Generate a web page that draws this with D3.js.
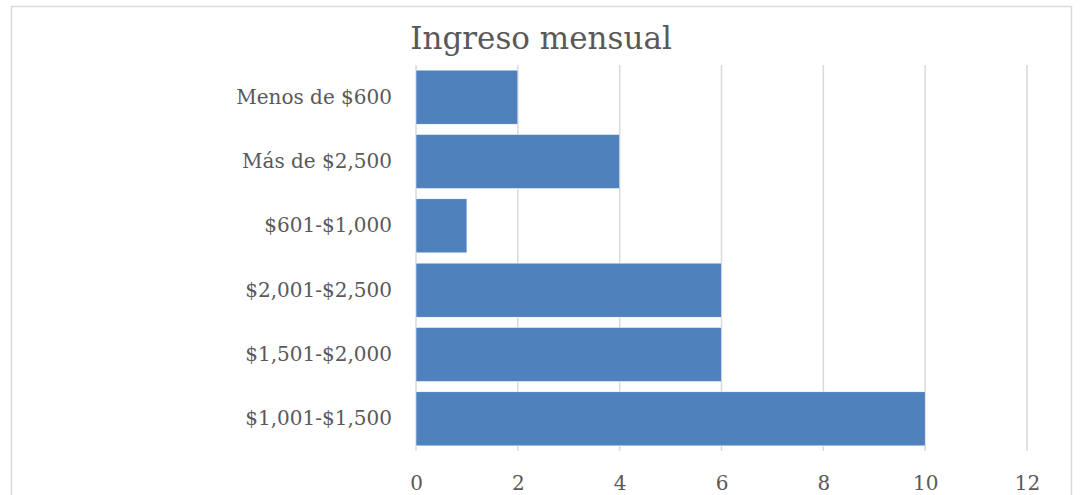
<!DOCTYPE html>
<html>
<head>
<meta charset="utf-8">
<script src="https://cdn.jsdelivr.net/npm/d3@7"></script>
<style>
  body { margin: 0; background: #fff; }
  svg text { font-family: "DejaVu Serif", serif; fill: #595959; }
</style>
</head>
<body>
<div id="chart"></div>
<script>
var width = 1080;
var height = 495;

// data, top to bottom as in the chart
var categories = ["Menos de $600", "Más de $2,500", "$601-$1,000", "$2,001-$2,500", "$1,501-$2,000", "$1,001-$1,500"];
var values = [2, 4, 1, 6, 6, 10];
var xTicks = [0, 2, 4, 6, 8, 10, 12];
var title = "Ingreso mensual";

var margin = {top: 65, right: 53, bottom: 44, left: 416};

var svg = d3.select("#chart")
  .append("svg")
  .attr("width", width)
  .attr("height", height);

// chart border
svg.append("rect")
  .attr("x", 11.5)
  .attr("y", 6.5)
  .attr("width", 1060)
  .attr("height", 500)
  .attr("fill", "none")
  .attr("stroke", "#d9d9d9")
  .attr("stroke-width", 1.5);

var g = svg.append("g")
  .attr("transform", "translate(" + margin.left + "," + margin.top + ")");

var chart_width = width - margin.left - margin.right;
var chart_height = height - margin.top - margin.bottom;

var x_scale = d3.scaleLinear()
  .domain([0, 12])
  .range([0, chart_width]);

var y_scale = d3.scaleBand()
  .domain(categories)
  .range([0, chart_height])
  .paddingInner(0.16)
  .paddingOuter(0.08);

// gridlines
g.selectAll(".grid")
  .data(xTicks)
  .enter()
  .append("line")
  .attr("class", "grid")
  .attr("x1", d => x_scale(d))
  .attr("x2", d => x_scale(d))
  .attr("y1", 0)
  .attr("y2", chart_height)
  .attr("stroke", "#d9d9d9")
  .attr("stroke-width", 1.5);

// bars
g.selectAll(".bar")
  .data(values)
  .enter()
  .append("rect")
  .attr("class", "bar")
  .attr("x", x_scale(0))
  .attr("y", (d, i) => y_scale(categories[i]))
  .attr("width", d => x_scale(d) - x_scale(0))
  .attr("height", y_scale.bandwidth())
  .attr("fill", "#4f81bd")
  .attr("stroke", "#ffffff")
  .attr("stroke-width", 0.5);

// x axis
var xAxis = d3.axisBottom(x_scale)
  .tickValues(xTicks)
  .tickSize(0)
  .tickPadding(25);

var axis_bottom = g.append("g")
  .attr("transform", "translate(0," + chart_height + ")")
  .call(xAxis);
axis_bottom.select(".domain").remove();
axis_bottom.selectAll("text")
  .style("font-size", "20px")
  .style("font-family", "\"DejaVu Serif\", serif")
  .attr("fill", "#595959");

// y axis
var yAxis = d3.axisLeft(y_scale)
  .tickSize(0)
  .tickPadding(24);

var axis_left = g.append("g").call(yAxis);
axis_left.select(".domain").remove();
axis_left.selectAll("text")
  .style("font-size", "20px")
  .style("font-family", "\"DejaVu Serif\", serif")
  .attr("fill", "#595959");

// title
svg.append("text")
  .attr("x", 541)
  .attr("y", 49)
  .attr("text-anchor", "middle")
  .style("font-size", "31px")
  .text(title);
</script>
</body>
</html>
